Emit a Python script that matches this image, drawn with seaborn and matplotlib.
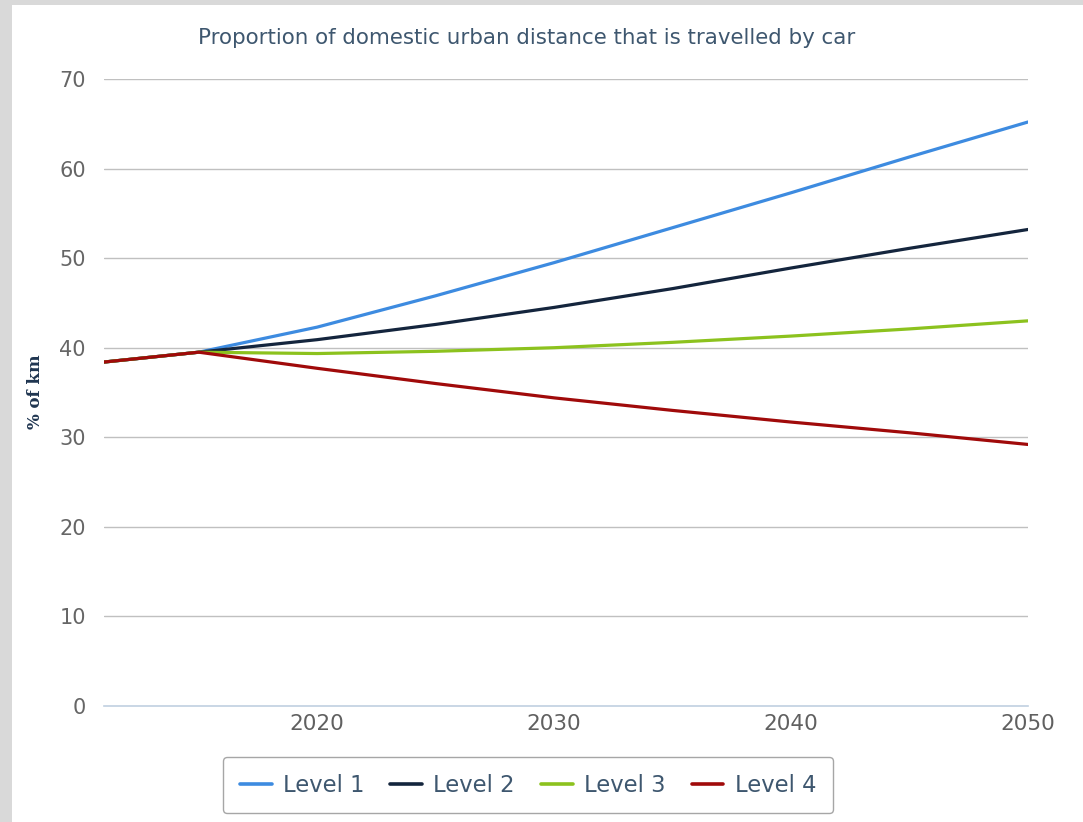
import matplotlib
matplotlib.use("Agg")
import matplotlib.pyplot as plt
import seaborn as sns
import pandas as pd
from matplotlib.patches import Rectangle
from matplotlib.ticker import FixedLocator

years = [2011, 2015, 2020, 2025, 2030, 2035, 2040, 2045, 2050]
level1 = [38.4, 39.5, 42.3, 45.8, 49.5, 53.4, 57.3, 61.3, 65.2]
level2 = [38.4, 39.5, 40.9, 42.6, 44.5, 46.6, 48.9, 51.1, 53.2]
level3 = [38.4, 39.5, 39.35, 39.6, 40.0, 40.6, 41.3, 42.1, 43.0]
level4 = [38.4, 39.5, 37.7, 36.0, 34.4, 33.0, 31.7, 30.5, 29.2]
series_names = ["Level 1", "Level 2", "Level 3", "Level 4"]
colors = ["#3D8BE0", "#14253D", "#8CC21E", "#A00A0A"]
x_ticks = [2020, 2030, 2040, 2050]
x_minor = [2015, 2025, 2035, 2045]
y_ticks = [0, 10, 20, 30, 40, 50, 60, 70]
title = "Proportion of domestic urban distance that is travelled by car"
ylabel = "% of km"

rows = []
for name, vals in zip(series_names, [level1, level2, level3, level4]):
    for yr, v in zip(years, vals):
        rows.append({"Year": yr, "Value": v, "Level": name})
df = pd.DataFrame(rows)

sns.set_style("white")
plt.rcParams["font.family"] = ["DejaVu Sans"]

W, H = 1083, 822
fig = plt.figure(figsize=(W / 100, H / 100), dpi=100)
fig.patch.set_facecolor("#D9D9D9")
fig.add_artist(Rectangle((12 / W, 0), 1 - 12 / W, 1 - 5 / H, transform=fig.transFigure,
                         facecolor="white", edgecolor="none", zorder=0))

ax = fig.add_axes([104 / W, 1 - 706 / H, (1028 - 104) / W, (706 - 79) / H])
ax.set_facecolor("none")

sns.lineplot(data=df, x="Year", y="Value", hue="Level", palette=colors,
             hue_order=series_names, linewidth=2.3, ax=ax, legend=False, zorder=3)

ax.set_xlim(2011, 2050)
ax.set_ylim(0, 70)
ax.set_yticks(y_ticks)
ax.set_xticks(x_ticks)
ax.xaxis.set_minor_locator(FixedLocator(x_minor))
ax.set_xticklabels([str(t) for t in x_ticks])
for y in y_ticks[1:]:
    ax.axhline(y, color="#C0C0C0", lw=1.0, zorder=1)

for s in ["top", "right", "left"]:
    ax.spines[s].set_visible(False)
ax.spines["bottom"].set_color("#C0D0E0")
ax.spines["bottom"].set_linewidth(1.2)
ax.tick_params(axis="x", which="major", length=5, width=1, color="#C0D0E0",
               labelsize=15.5, labelcolor="#606060", pad=1)
ax.tick_params(axis="x", which="minor", length=7.5, width=1, color="#C0D0E0")
ax.tick_params(axis="y", length=0, labelsize=15, labelcolor="#666666", pad=13)
ax.set_xlabel("")
ax.set_ylabel("")

fig.text(35 / W, 1 - 392 / H, ylabel, rotation=90, ha="center", va="center",
         fontsize=12, fontweight="bold", family="DejaVu Serif", color="#1F3550")
fig.text(527 / W, 1 - 38 / H, title, ha="center", va="center",
         fontsize=15.4, color="#3E576F")

handles = [plt.Line2D([], [], color=c, lw=2.6) for c in colors]
leg = fig.legend(handles, series_names, loc="center", ncol=4,
                 bbox_to_anchor=(528 / W, 1 - 785 / H), frameon=True,
                 fontsize=16.3, handlelength=1.4, handletextpad=0.5,
                 columnspacing=1.15, borderpad=0.75, borderaxespad=0, fancybox=True)
leg.get_frame().set_edgecolor("#909090")
leg.get_frame().set_linewidth(1.0)
for t in leg.get_texts():
    t.set_color("#3E576F")

fig.savefig("out.png", dpi=100, facecolor=fig.get_facecolor())
